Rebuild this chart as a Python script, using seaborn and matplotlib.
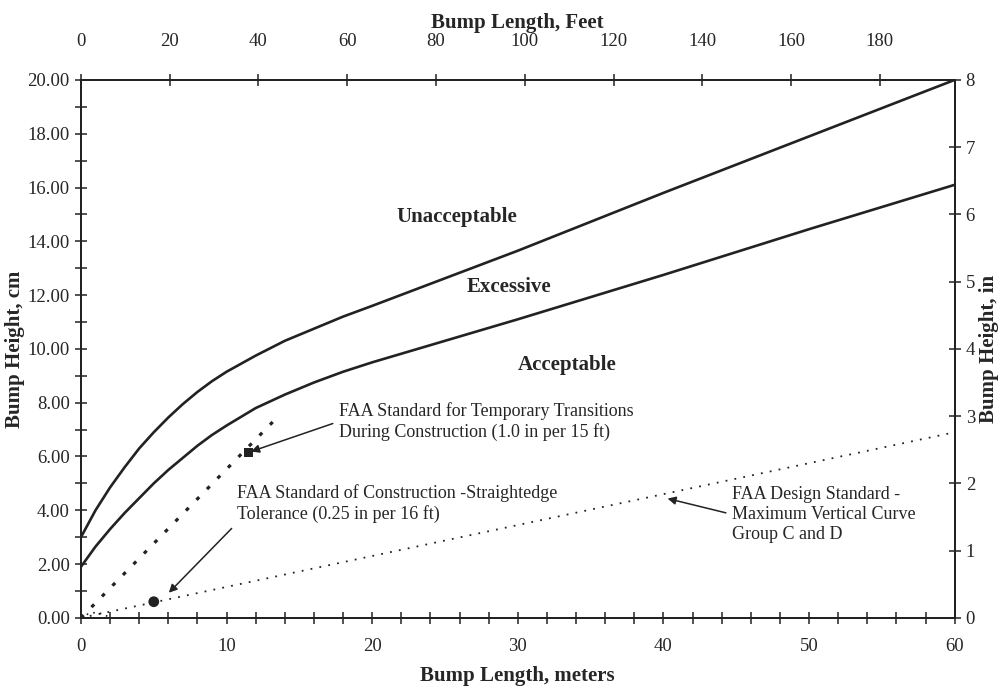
import numpy as np
import pandas as pd
import matplotlib
matplotlib.use("Agg")
import matplotlib.pyplot as plt
import seaborn as sns
from matplotlib.ticker import MultipleLocator, FormatStrFormatter

# bump length (m) and limit curves (cm)
length_m = [0, 1, 2, 3, 4, 5, 6, 7, 8, 9, 10, 12, 14, 16, 18, 20, 30, 40, 50, 60]
upper_cm = [3.0, 4.0, 4.85, 5.6, 6.3, 6.9, 7.45, 7.95, 8.4, 8.8, 9.15, 9.75,
            10.3, 10.75, 11.2, 11.6, 13.65, 15.8, 17.9, 20.0]
lower_cm = [1.9, 2.65, 3.3, 3.9, 4.45, 5.0, 5.5, 5.95, 6.4, 6.8, 7.15, 7.8,
            8.3, 8.75, 9.15, 9.5, 11.1, 12.75, 14.45, 16.1]

# FAA standards
temp_x = [0, 13.2]
temp_y = [0, 7.3]
temp_pt = (11.5, 6.15)
design_x = [0, 60]
design_y = [0, 6.9]
tol_pt = (5.0, 0.6)
bump_x = [0, 0.5, 1.0, 1.5, 2.0]
bump_y = [0, 0.15, 0.2, 0.15, 0]

feet_ticks = [0, 20, 40, 60, 80, 100, 120, 140, 160, 180]
inch_ticks = [0, 1, 2, 3, 4, 5, 6, 7, 8]

sns.set_style("ticks")
plt.rcParams['font.family'] = ['Liberation Serif', 'DejaVu Serif']

ink = '#222222'
fig = plt.figure(figsize=(10.07, 6.95), dpi=100)
ax = fig.add_axes([0.0804, 0.111, 0.8676, 0.774])

sns.lineplot(x=length_m, y=upper_cm, ax=ax, color=ink, lw=1.9)
sns.lineplot(x=length_m, y=lower_cm, ax=ax, color=ink, lw=1.9)
sns.lineplot(x=temp_x, y=temp_y, ax=ax, color=ink, lw=2.3, linestyle=(0, (1.2, 3.5)))
sns.lineplot(x=design_x, y=design_y, ax=ax, color=ink, lw=1.3, linestyle=(0, (1, 4)))
sns.lineplot(x=bump_x, y=bump_y, ax=ax, color=ink, lw=1.2, linestyle=(0, (1, 3)))
sns.scatterplot(x=[temp_pt[0]], y=[temp_pt[1]], ax=ax, marker='s', s=40, color=ink, edgecolor='none')
sns.scatterplot(x=[tol_pt[0]], y=[tol_pt[1]], ax=ax, marker='o', s=60, color=ink, edgecolor='none')

ax.set_xlim(0, 60)
ax.set_ylim(0, 20)
ax.xaxis.set_major_locator(MultipleLocator(10))
ax.xaxis.set_minor_locator(MultipleLocator(2))
ax.yaxis.set_major_locator(MultipleLocator(2))
ax.yaxis.set_minor_locator(MultipleLocator(1))
ax.yaxis.set_major_formatter(FormatStrFormatter('%.2f'))
ax.tick_params(which='both', direction='inout', length=9, width=1.1, labelsize=13.5, color=ink)
ax.tick_params(axis='x', pad=10)
for s in ax.spines.values():
    s.set_linewidth(1.4)
    s.set_color(ink)
ax.set_xlabel('Bump Length, meters', fontsize=15, fontweight='bold', labelpad=8)
ax.set_ylabel('Bump Height, cm', fontsize=15, fontweight='bold', labelpad=2)

# top axis in feet
axt = ax.twiny()
axt.set_xlim(0, 60 / 0.3048)
axt.set_xticks(feet_ticks)
axt.tick_params(direction='inout', length=9, width=1.1, labelsize=13.5, color=ink, pad=17)
axt.set_xlabel('Bump Length, Feet', fontsize=15, fontweight='bold', labelpad=4)

# right axis in inches
axr = ax.twinx()
axr.set_ylim(0, 8)
axr.set_yticks(inch_ticks)
axr.tick_params(direction='inout', length=9, width=1.1, labelsize=13.5, color=ink)
axr.set_ylabel('Bump Height, in', fontsize=15, fontweight='bold', labelpad=3)
for a in (axt, axr):
    for s in a.spines.values():
        s.set_linewidth(1.4)
        s.set_color(ink)

# region labels
ax.text(25.8, 14.9, 'Unacceptable', ha='center', va='center', fontsize=15, fontweight='bold')
ax.text(29.4, 12.3, 'Excessive', ha='center', va='center', fontsize=15, fontweight='bold')
ax.text(33.4, 9.4, 'Acceptable', ha='center', va='center', fontsize=15, fontweight='bold')

arrow = dict(arrowstyle='-|>', color=ink, lw=1.1, mutation_scale=12, shrinkA=2, shrinkB=2)
ax.annotate('FAA Standard for Temporary Transitions\nDuring Construction (1.0 in per 15 ft)',
            xy=temp_pt, xytext=(17.7, 7.3), ha='left', va='center', fontsize=13,
            linespacing=1.25, arrowprops=dict(arrow, relpos=(0.0, 0.5)))
ax.annotate('FAA Standard of Construction -Straightedge\nTolerance (0.25 in per 16 ft)',
            xy=(5.9, 0.86), xytext=(10.7, 4.25), ha='left', va='center', fontsize=13,
            linespacing=1.25, arrowprops=dict(arrow, relpos=(0.0, 0.0)))
ax.annotate('FAA Design Standard -\nMaximum Vertical Curve\nGroup C and D',
            xy=(40.1, 4.46), xytext=(44.7, 3.85), ha='left', va='center', fontsize=13,
            linespacing=1.25, arrowprops=dict(arrow, relpos=(0.0, 0.5)))

fig.savefig('out.png', dpi=100)
